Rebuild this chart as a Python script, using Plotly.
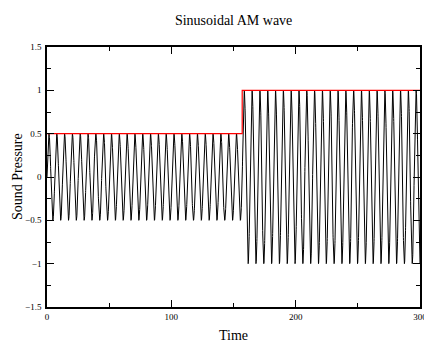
import numpy as np
import plotly.graph_objects as go

# Values
envelope_time = [0, 157, 157, 300]          # red envelope step
envelope_level = [0.5, 0.5, 1.0, 1.0]
switch_time = 157.08                         # amplitude switches here (~50*pi)
amp_before, amp_after = 0.5, 1.0
carrier_period = 6.283                       # one cycle every ~6.28 time units
time_range = [0, 300]

x_ticks = [0, 100, 200, 300]
x_ticktext = ["0", "100", "200", "300"]
y_ticks = [-1.5, -1, -0.5, 0, 0.5, 1, 1.5]
y_ticktext = ["\u22121.5", "\u22121", "\u22120.5", "0", "0.5", "1", "1.5"]

t = np.arange(time_range[0], time_range[1] + 1e-9, 0.05)
amp = np.where(t < switch_time, amp_before, amp_after)
wave = amp * np.sin(2 * np.pi * t / carrier_period)

fig = go.Figure()
fig.add_trace(go.Scatter(x=t, y=wave, mode="lines",
                         line=dict(color="black", width=1), hoverinfo="skip"))
fig.add_trace(go.Scatter(x=envelope_time, y=envelope_level, mode="lines",
                         line=dict(color="red", width=1.2), hoverinfo="skip"))

serif = "Liberation Serif, Times New Roman, serif"
tickfont = dict(family=serif, size=9, color="black")
fig.update_layout(
    width=424, height=343,
    margin=dict(l=47, r=4, t=47, b=36),
    paper_bgcolor="white", plot_bgcolor="white",
    showlegend=False,
    font=dict(family=serif, color="black", size=9),
    title=dict(text="Sinusoidal AM wave", x=0.551, xanchor="center",
               y=0.942, yanchor="middle", font=dict(family=serif, size=14)),
    annotations=[dict(text="Sound Pressure", textangle=-90, showarrow=False,
                      xref="paper", yref="paper", x=0, y=0.5,
                      xanchor="center", yanchor="middle", xshift=-30,
                      font=dict(family=serif, size=14, color="black"))],
)
fig.update_xaxes(
    range=time_range, tickvals=x_ticks, ticktext=x_ticktext,
    ticks="inside", ticklen=7, tickwidth=1, tickcolor="black",
    minor=dict(ticks="inside", ticklen=4, tickwidth=1, tickcolor="black", dtick=50),
    showline=True, linecolor="black", linewidth=1.5, mirror="ticks",
    showgrid=False, zeroline=False, automargin=False,
    tickfont=tickfont, ticklabelstandoff=0, ticklabeloverflow="allow",
    title=dict(text="Time", font=dict(family=serif, size=14), standoff=12),
)
fig.update_yaxes(
    range=[-1.5, 1.5], tickvals=y_ticks, ticktext=y_ticktext,
    ticks="inside", ticklen=7, tickwidth=1, tickcolor="black",
    minor=dict(ticks="inside", ticklen=4, tickwidth=1, tickcolor="black", dtick=0.25),
    showline=True, linecolor="black", linewidth=1.5, mirror="ticks",
    showgrid=False, zeroline=False, automargin=False,
    tickfont=tickfont, ticklabelstandoff=2, ticklabeloverflow="allow",
)

fig.write_html("out.html")
